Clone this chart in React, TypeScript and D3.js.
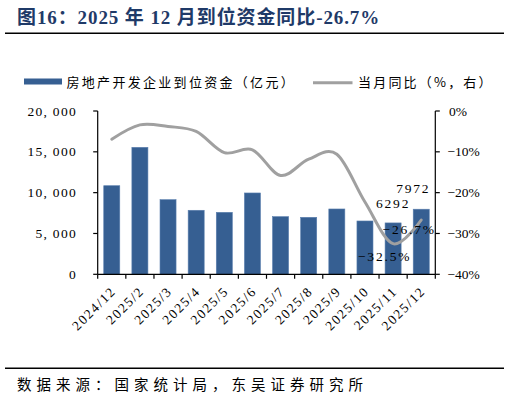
import React from "react";
import * as d3 from "d3";

const categories = ["2024/12", "2025/2", "2025/3", "2025/4", "2025/5", "2025/6", "2025/7", "2025/8", "2025/9", "2025/10", "2025/11", "2025/12"];
const funds = [10850, 15550, 9140, 7840, 7590, 9960, 7060, 6980, 8000, 6530, 6292, 7972];
const yoy = [-6.9, -3.4, -3.8, -5.0, -10.2, -9.5, -15.8, -11.8, -10.6, -22.3, -32.5, -26.7];
const leftTicks = [0, 5000, 10000, 15000, 20000];
const rightTicks = [0, -10, -20, -30, -40];

const W = 510;
const H = 401;
const M = { left: 97.7, right: 435.3, top: 111, bottom: 274.3 };
const BAR = "#365F92";
const LINE = "#A0A0A0";
const TITLE = "#1F3A68";
const NUM_FONT = "'Liberation Serif', 'DejaVu Serif', serif";
const CJK_FONT = "'Noto Sans CJK SC', sans-serif";

const fmtLeft = (v: number) => {
  const s = d3.format(",")(v);
  return s.replace(",", ", ");
};

export default function App() {
  const x = d3.scaleBand<string>().domain(categories).range([M.left, M.right]).paddingInner(0.43).paddingOuter(0.215);
  const xb = d3.scaleBand<string>().domain(categories).range([M.left, M.right]);
  const yL = d3.scaleLinear().domain([0, 20000]).range([M.bottom, M.top]);
  const yR = d3.scaleLinear().domain([-40, 0]).range([M.bottom, M.top]);
  const cx = (c: string) => (xb(c) as number) + xb.bandwidth() / 2;

  const line = d3
    .line<number>()
    .x((_, i) => cx(categories[i]))
    .y((d) => yR(d))
    .curve(d3.curveCardinal.tension(0));

  const boundaries = categories.map((c) => xb(c) as number).concat([M.right]);
  const n = categories.length;
  const last = categories[n - 1];
  const prev = categories[n - 2];

  return (
    <svg width={W} height={H} style={{ position: "absolute", left: 0, top: 0, background: "#fff" }}>
      {/* title */}
      <text x={17} y={23.5} fontFamily={`'Liberation Serif', ${CJK_FONT}`} fontWeight="bold" fontSize={19} letterSpacing={0.9} fill={TITLE}>
        图16：2025 年 12 月到位资金同比-26.7%
      </text>
      <line x1={5} x2={504} y1={33.3} y2={33.3} stroke="#000" strokeWidth={1.6} />

      {/* legend */}
      <rect x={24} y={78.5} width={38} height={6} fill={BAR} />
      <text x={66.5} y={87} fontFamily={CJK_FONT} fontSize={13} letterSpacing={2.3} fill="#000">
        房地产开发企业到位资金（亿元）
      </text>
      <line x1={313} x2={352.5} y1={82.7} y2={82.7} stroke={LINE} strokeWidth={3} />
      <text x={358} y={87} fontFamily={CJK_FONT} fontSize={13} letterSpacing={2.2} fill="#000">
        当月同比（%，右）
      </text>

      {/* bars */}
      {funds.map((v, i) => (
        <rect key={i} x={x(categories[i])} y={yL(v)} width={x.bandwidth()} height={yL(0) - yL(v)} fill={BAR} stroke="#5A7FAE" strokeWidth={0.6} />
      ))}

      {/* line */}
      <path d={line(yoy) || ""} fill="none" stroke={LINE} strokeWidth={3} strokeLinejoin="round" strokeLinecap="round" />

      {/* left axis */}
      <line x1={M.left} x2={M.left} y1={M.top} y2={M.bottom} stroke="#000" strokeWidth={1.2} />
      {leftTicks.map((t) => (
        <g key={t}>
          <line x1={M.left - 4.5} x2={M.left} y1={yL(t)} y2={yL(t)} stroke="#000" strokeWidth={1.2} />
          <text x={77} y={yL(t) + 4.5} textAnchor="end" fontFamily={NUM_FONT} fontSize={13.5} letterSpacing={1.3} fill="#000">
            {fmtLeft(t)}
          </text>
        </g>
      ))}

      {/* right axis */}
      <line x1={M.right} x2={M.right} y1={M.top} y2={M.bottom} stroke="#000" strokeWidth={1.2} />
      {rightTicks.map((t) => (
        <g key={t}>
          <line x1={M.right} x2={M.right + 4.5} y1={yR(t)} y2={yR(t)} stroke="#000" strokeWidth={1.2} />
          <text x={t === 0 ? 449 : 447.5} y={yR(t) + 4.5} fontFamily={NUM_FONT} fontSize={13.5} fill="#000">
            {t === 0 ? "0%" : `−${Math.abs(t)}%`}
          </text>
        </g>
      ))}

      {/* x axis */}
      <line x1={M.left} x2={M.right} y1={M.bottom} y2={M.bottom} stroke="#000" strokeWidth={1.2} />
      {boundaries.map((b, i) => (
        <line key={i} x1={b} x2={b} y1={M.bottom} y2={M.bottom + 4.5} stroke="#000" strokeWidth={1.2} />
      ))}
      {categories.map((c) => (
        <text
          key={c}
          transform={`translate(${cx(c) + 5},${292}) rotate(-45)`}
          textAnchor="end"
          fontFamily={NUM_FONT}
          fontSize={13.5}
          letterSpacing={1.6}
          fill="#000"
        >
          {c}
        </text>
      ))}

      {/* data labels */}
      <text x={cx(prev)} y={yL(funds[n - 2]) - 14.5} textAnchor="middle" fontFamily={NUM_FONT} fontSize={13.5} letterSpacing={1.8} fill="#000">
        {funds[n - 2]}
      </text>
      <text x={cx(last) - 8} y={yL(funds[n - 1]) - 16} textAnchor="middle" fontFamily={NUM_FONT} fontSize={13.5} letterSpacing={1.8} fill="#000">
        {funds[n - 1]}
      </text>
      <text x={cx(last) - 12} y={yR(yoy[n - 1]) + 13.5} textAnchor="middle" fontFamily={NUM_FONT} fontSize={13.5} letterSpacing={1.8} fill="#000">
        {`−${Math.abs(yoy[n - 1]).toFixed(1)}%`}
      </text>
      <text x={cx(prev) - 8.5} y={yR(yoy[n - 2]) + 17.5} textAnchor="middle" fontFamily={NUM_FONT} fontSize={13.5} letterSpacing={1.8} fill="#000">
        {`−${Math.abs(yoy[n - 2]).toFixed(1)}%`}
      </text>

      {/* footer */}
      <line x1={5} x2={504} y1={368.3} y2={368.3} stroke="#000" strokeWidth={1.6} />
      <text x={17} y={390} fontFamily={CJK_FONT} fontSize={14.5} letterSpacing={5} fill="#000">
        数据来源：国家统计局，东吴证券研究所
      </text>
    </svg>
  );
}
